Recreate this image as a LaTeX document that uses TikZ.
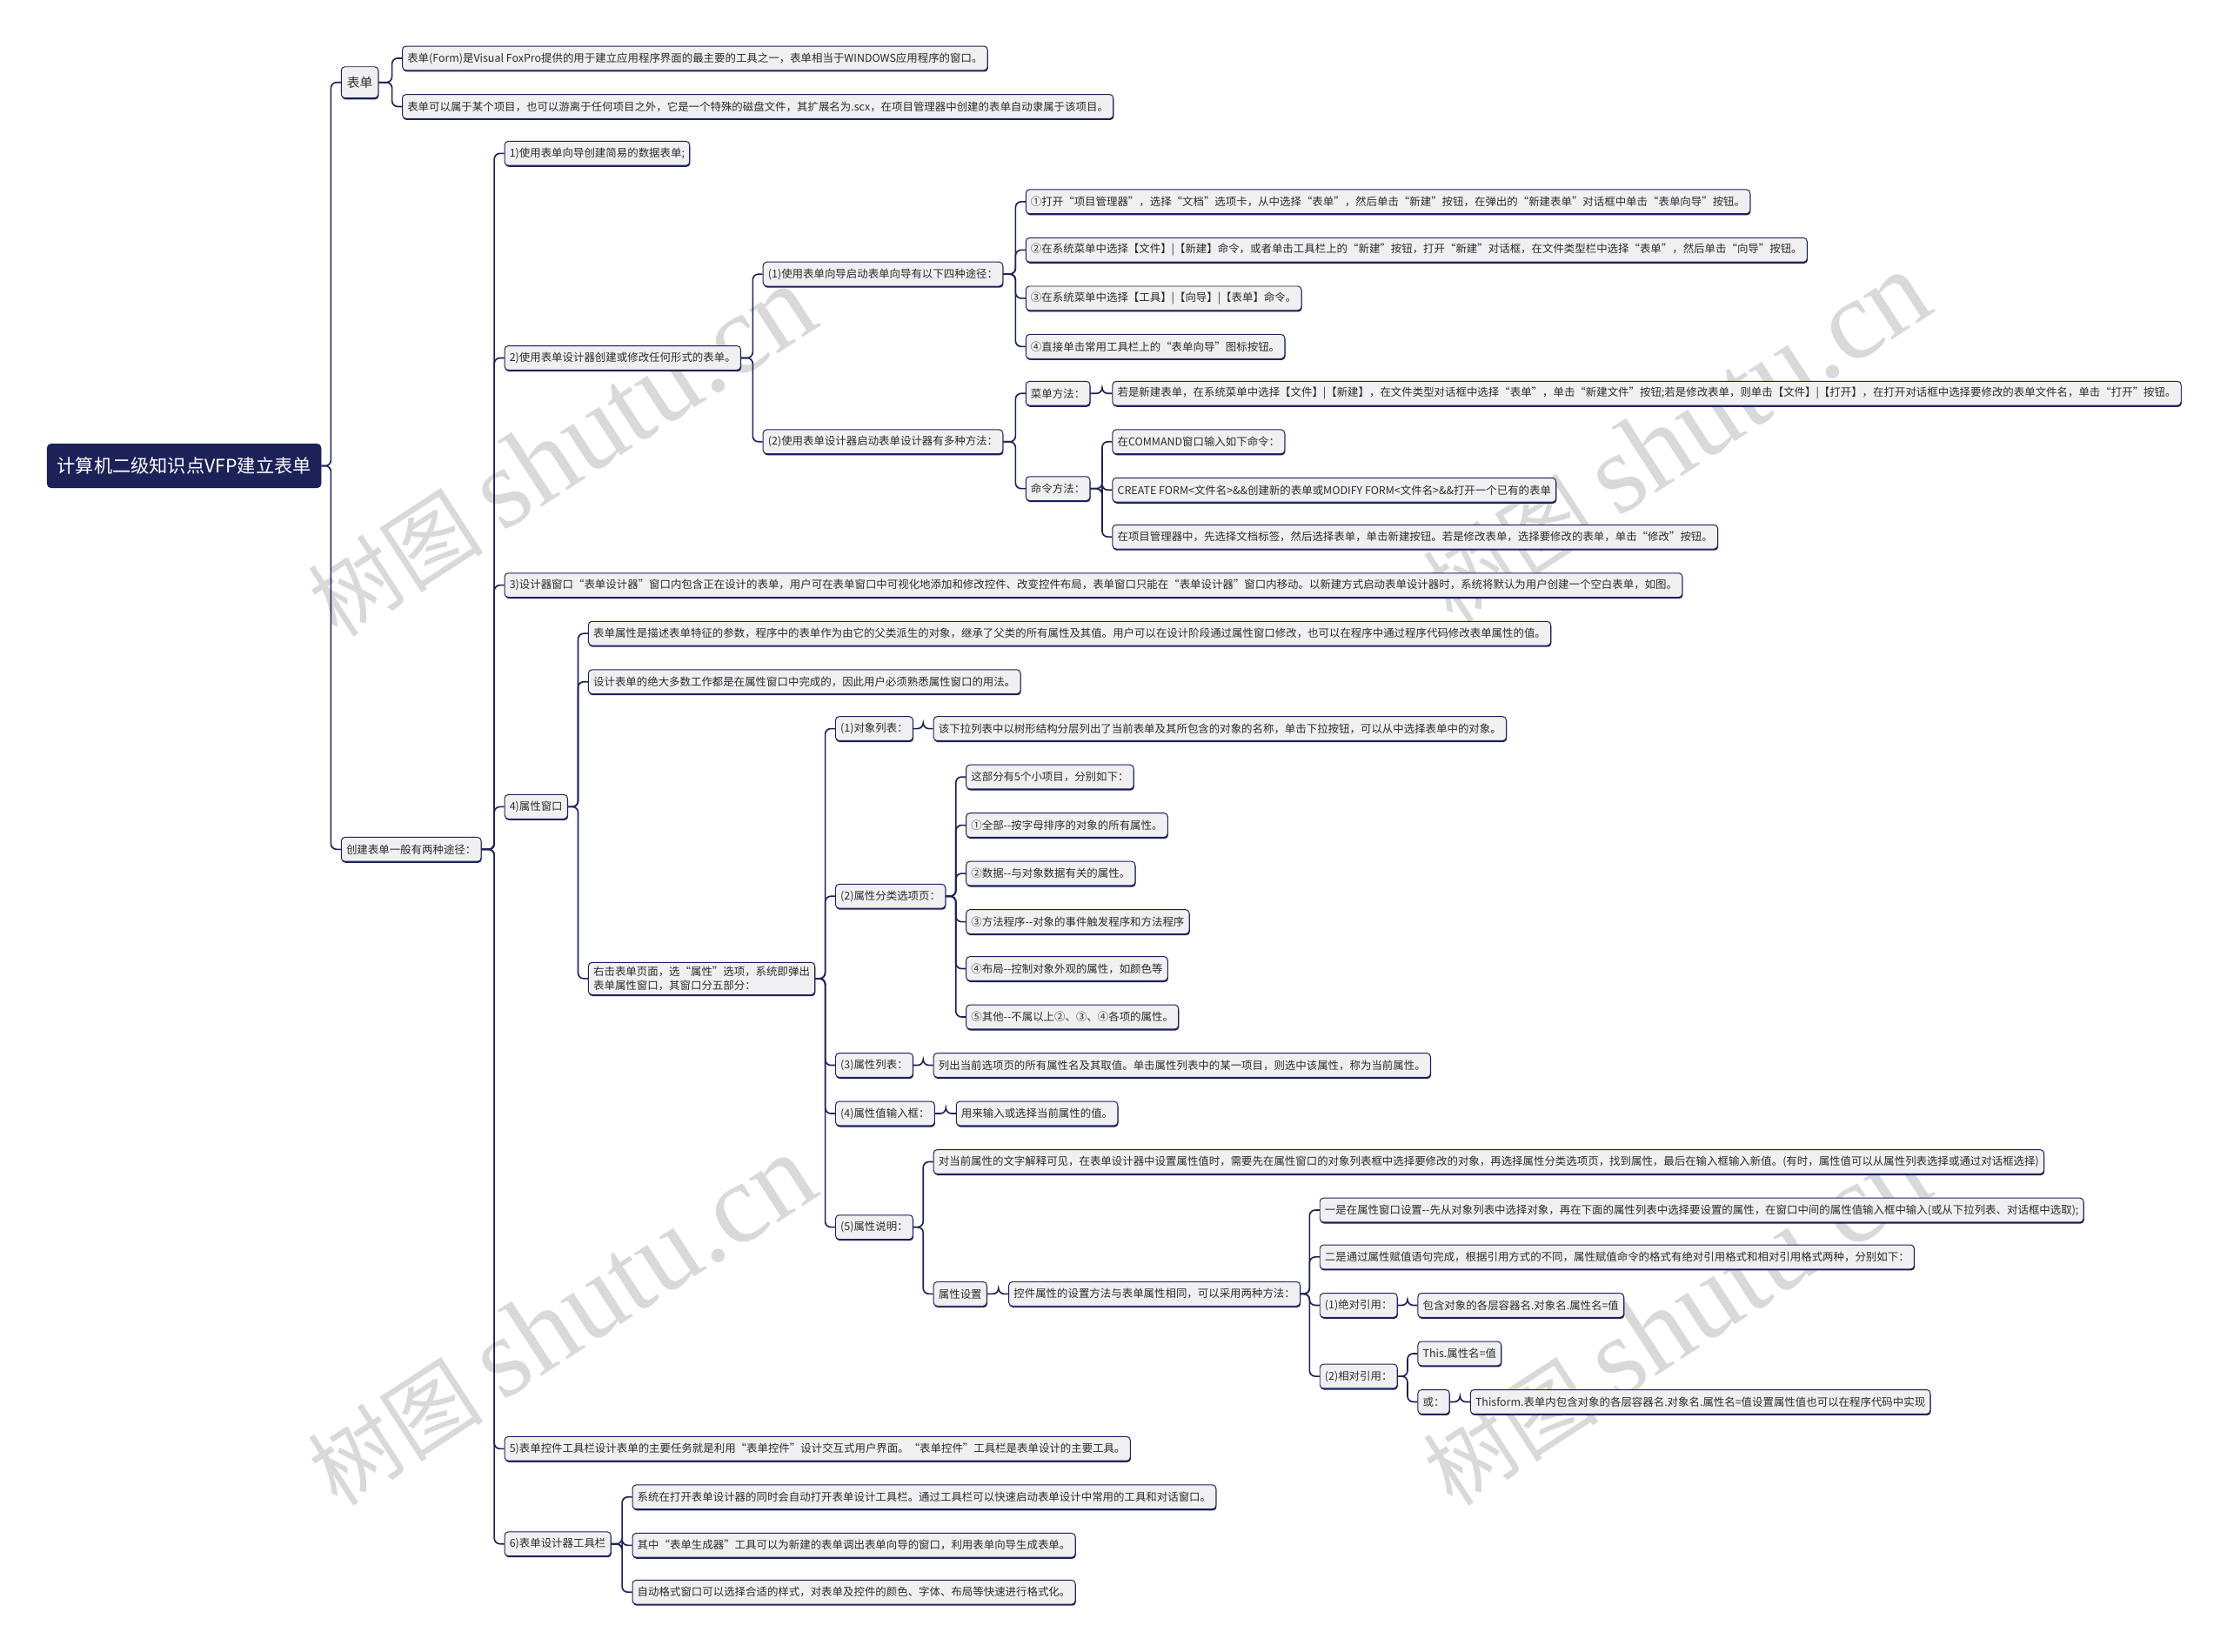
\documentclass[tikz,border=0pt]{standalone}
\usepackage{fontspec}
\setmainfont{Noto Sans CJK SC}
\newfontfamily\wmlatin{Liberation Serif}
\usetikzlibrary{calc,shadows}
\definecolor{navy}{HTML}{1C2158}
\definecolor{boxfill}{HTML}{F0F0F2}
\definecolor{txt}{HTML}{2B2B2B}
\definecolor{wm}{HTML}{D9D9D9}
\tikzset{
  box/.style={draw=navy, line width=0.6pt, fill=boxfill, rounded corners=2.5pt,
    font=\fontsize{7.62}{9.5}\selectfont, text=txt, inner xsep=3.5pt, inner ysep=0pt,
    minimum height=17pt, anchor=west,
    drop shadow={shadow xshift=0.4pt, shadow yshift=-1pt, fill=navy, opacity=1}},
  twoline/.style={box, align=left, inner ysep=3pt},
  lvlone/.style={box, font=\fontsize{9}{11}\selectfont, minimum height=22pt, inner xsep=4pt},
  rootbox/.style={draw=navy, fill=navy, rounded corners=3pt, text=white,
    font=\fontsize{13}{15}\selectfont, inner xsep=7pt, minimum height=31pt, anchor=west},
  conn/.style={draw=navy, line width=1pt, rounded corners=4pt},
  wmark/.style={text=wm, inner sep=0pt}
}
\newcommand\mmlink[2]{\draw[conn] (#1.east) -| ($(#2.west)+(-7,0)$) -- (#2.west);}
\begin{document}
\begin{tikzpicture}[x=1pt,y=-1pt]
\useasboundingbox (0,0) rectangle (1568,1163);
\fill[white] (0,0) rectangle (1568,1163);
% watermarks
\node[wmark, rotate=33] (wm1) at (395,318) {\fontsize{62}{62}\selectfont 树图 {\wmlatin\fontsize{80}{80}\selectfont shutu.cn}};
\node[wmark, rotate=33] (wm2) at (1180,308) {\fontsize{62}{62}\selectfont 树图 {\wmlatin\fontsize{80}{80}\selectfont shutu.cn}};
\node[wmark, rotate=33] (wm3) at (395,930) {\fontsize{62}{62}\selectfont 树图 {\wmlatin\fontsize{80}{80}\selectfont shutu.cn}};
\node[wmark, rotate=33] (wm4) at (1180,930) {\fontsize{62}{62}\selectfont 树图 {\wmlatin\fontsize{80}{80}\selectfont shutu.cn}};

\node[rootbox] (root) at (33,328) {计算机二级知识点VFP建立表单};

\node[lvlone] (bd) at (240,58) {表单};
\node[box] (bd1) at (283,41) {表单(Form)是Visual FoxPro提供的用于建立应用程序界面的最主要的工具之一，表单相当于WINDOWS应用程序的窗口。};
\node[box] (bd2) at (283,75) {表单可以属于某个项目，也可以游离于任何项目之外，它是一个特殊的磁盘文件，其扩展名为.scx，在项目管理器中创建的表单自动隶属于该项目。};

\node[box] (cj) at (240,598) {创建表单一般有两种途径：};

\node[box] (c1) at (355,108) {1)使用表单向导创建简易的数据表单;};
\node[box] (c2) at (355,252) {2)使用表单设计器创建或修改任何形式的表单。};
\node[box] (c21) at (537,193) {(1)使用表单向导启动表单向导有以下四种途径：};
\node[box] (w1) at (722,142) {①打开“项目管理器”，选择“文档”选项卡，从中选择“表单”，然后单击“新建”按钮，在弹出的“新建表单”对话框中单击“表单向导”按钮。};
\node[box] (w2) at (722,176) {②在系统菜单中选择【文件】|【新建】命令，或者单击工具栏上的“新建”按钮，打开“新建”对话框，在文件类型栏中选择“表单”，然后单击“向导”按钮。};
\node[box] (w3) at (722,210) {③在系统菜单中选择【工具】|【向导】|【表单】命令。};
\node[box] (w4) at (722,244) {④直接单击常用工具栏上的“表单向导”图标按钮。};
\node[box] (c22) at (537,311) {(2)使用表单设计器启动表单设计器有多种方法：};
\node[box] (menu) at (722,277) {菜单方法：};
\node[box] (menuL) at (783,277) {若是新建表单，在系统菜单中选择【文件】|【新建】，在文件类型对话框中选择“表单”，单击“新建文件”按钮;若是修改表单，则单击【文件】|【打开】，在打开对话框中选择要修改的表单文件名，单击“打开”按钮。};
\node[box] (cmd) at (722,344) {命令方法：};
\node[box] (cmd1) at (783,311) {在COMMAND窗口输入如下命令：};
\node[box] (cmd2) at (783,345) {CREATE FORM<文件名>\&\&创建新的表单或MODIFY FORM<文件名>\&\&打开一个已有的表单};
\node[box] (cmd3) at (783,378) {在项目管理器中，先选择文档标签，然后选择表单，单击新建按钮。若是修改表单，选择要修改的表单，单击“修改”按钮。};
\node[box] (c3) at (355,412) {3)设计器窗口“表单设计器”窗口内包含正在设计的表单，用户可在表单窗口中可视化地添加和修改控件、改变控件布局，表单窗口只能在“表单设计器”窗口内移动。以新建方式启动表单设计器时，系统将默认为用户创建一个空白表单，如图。};
\node[box] (c4) at (355,568) {4)属性窗口};
\node[box] (p1) at (414,446) {表单属性是描述表单特征的参数，程序中的表单作为由它的父类派生的对象，继承了父类的所有属性及其值。用户可以在设计阶段通过属性窗口修改，也可以在程序中通过程序代码修改表单属性的值。};
\node[box] (p2) at (414,480) {设计表单的绝大多数工作都是在属性窗口中完成的，因此用户必须熟悉属性窗口的用法。};
\node[twoline] (p3) at (414,689) {右击表单页面，选“属性”选项，系统即弹出\\表单属性窗口，其窗口分五部分：};
\node[box] (o1) at (588,513) {(1)对象列表：};
\node[box] (o1L) at (657,513) {该下拉列表中以树形结构分层列出了当前表单及其所包含的对象的名称，单击下拉按钮，可以从中选择表单中的对象。};
\node[box] (o2) at (588,631) {(2)属性分类选项页：};
\node[box] (s0) at (680,547) {这部分有5个小项目，分别如下：};
\node[box] (s1) at (680,581) {①全部-{}-按字母排序的对象的所有属性。};
\node[box] (s2) at (680,615) {②数据-{}-与对象数据有关的属性。};
\node[box] (s3) at (680,649) {③方法程序-{}-对象的事件触发程序和方法程序};
\node[box] (s4) at (680,682) {④布局-{}-控制对象外观的属性，如颜色等};
\node[box] (s5) at (680,716) {⑤其他-{}-不属以上②、③、④各项的属性。};
\node[box] (o3) at (588,750) {(3)属性列表：};
\node[box] (o3L) at (657,750) {列出当前选项页的所有属性名及其取值。单击属性列表中的某一项目，则选中该属性，称为当前属性。};
\node[box] (o4) at (588,784) {(4)属性值输入框：};
\node[box] (o4L) at (673,784) {用来输入或选择当前属性的值。};
\node[box] (o5) at (588,864) {(5)属性说明：};
\node[box] (e1) at (657,818) {对当前属性的文字解释可见，在表单设计器中设置属性值时，需要先在属性窗口的对象列表框中选择要修改的对象，再选择属性分类选项页，找到属性，最后在输入框输入新值。(有时，属性值可以从属性列表选择或通过对话框选择)};
\node[box] (e2) at (657,911) {属性设置};
\node[box] (e2a) at (710,911) {控件属性的设置方法与表单属性相同，可以采用两种方法：};
\node[box] (f1) at (929,852) {一是在属性窗口设置-{}-先从对象列表中选择对象，再在下面的属性列表中选择要设置的属性，在窗口中间的属性值输入框中输入(或从下拉列表、对话框中选取);};
\node[box] (f2) at (929,885) {二是通过属性赋值语句完成，根据引用方式的不同，属性赋值命令的格式有绝对引用格式和相对引用格式两种，分别如下：};
\node[box] (f3) at (929,919) {(1)绝对引用：};
\node[box] (f3L) at (998,919) {包含对象的各层容器名.对象名.属性名=值};
\node[box] (f4) at (929,969) {(2)相对引用：};
\node[box] (f4a) at (998,953) {This.属性名=值};
\node[box] (f4b) at (998,987) {或：};
\node[box] (f4bL) at (1035,987) {Thisform.表单内包含对象的各层容器名.对象名.属性名=值设置属性值也可以在程序代码中实现};
\node[box] (c5) at (355,1020) {5)表单控件工具栏设计表单的主要任务就是利用“表单控件”设计交互式用户界面。“表单控件”工具栏是表单设计的主要工具。};
\node[box] (c6) at (355,1087) {6)表单设计器工具栏};
\node[box] (g1) at (445,1054) {系统在打开表单设计器的同时会自动打开表单设计工具栏。通过工具栏可以快速启动表单设计中常用的工具和对话窗口。};
\node[box] (g2) at (445,1088) {其中“表单生成器”工具可以为新建的表单调出表单向导的窗口，利用表单向导生成表单。};
\node[box] (g3) at (445,1121) {自动格式窗口可以选择合适的样式，对表单及控件的颜色、字体、布局等快速进行格式化。};

% connectors
\mmlink{root}{bd}\mmlink{root}{cj}
\mmlink{bd}{bd1}\mmlink{bd}{bd2}
\mmlink{cj}{c1}\mmlink{cj}{c2}\mmlink{cj}{c3}\mmlink{cj}{c4}\mmlink{cj}{c5}\mmlink{cj}{c6}
\mmlink{c2}{c21}\mmlink{c2}{c22}
\mmlink{c21}{w1}\mmlink{c21}{w2}\mmlink{c21}{w3}\mmlink{c21}{w4}
\mmlink{c22}{menu}\mmlink{c22}{cmd}
\mmlink{menu}{menuL}
\mmlink{cmd}{cmd1}\mmlink{cmd}{cmd2}\mmlink{cmd}{cmd3}
\mmlink{c4}{p1}\mmlink{c4}{p2}\mmlink{c4}{p3}
\mmlink{p3}{o1}\mmlink{p3}{o2}\mmlink{p3}{o3}\mmlink{p3}{o4}\mmlink{p3}{o5}
\mmlink{o1}{o1L}
\mmlink{o2}{s0}\mmlink{o2}{s1}\mmlink{o2}{s2}\mmlink{o2}{s3}\mmlink{o2}{s4}\mmlink{o2}{s5}
\mmlink{o3}{o3L}
\mmlink{o4}{o4L}
\mmlink{o5}{e1}\mmlink{o5}{e2}
\mmlink{e2}{e2a}
\mmlink{e2a}{f1}\mmlink{e2a}{f2}\mmlink{e2a}{f3}\mmlink{e2a}{f4}
\mmlink{f3}{f3L}
\mmlink{f4}{f4a}\mmlink{f4}{f4b}
\mmlink{f4b}{f4bL}
\mmlink{c6}{g1}\mmlink{c6}{g2}\mmlink{c6}{g3}
\end{tikzpicture}
\end{document}
